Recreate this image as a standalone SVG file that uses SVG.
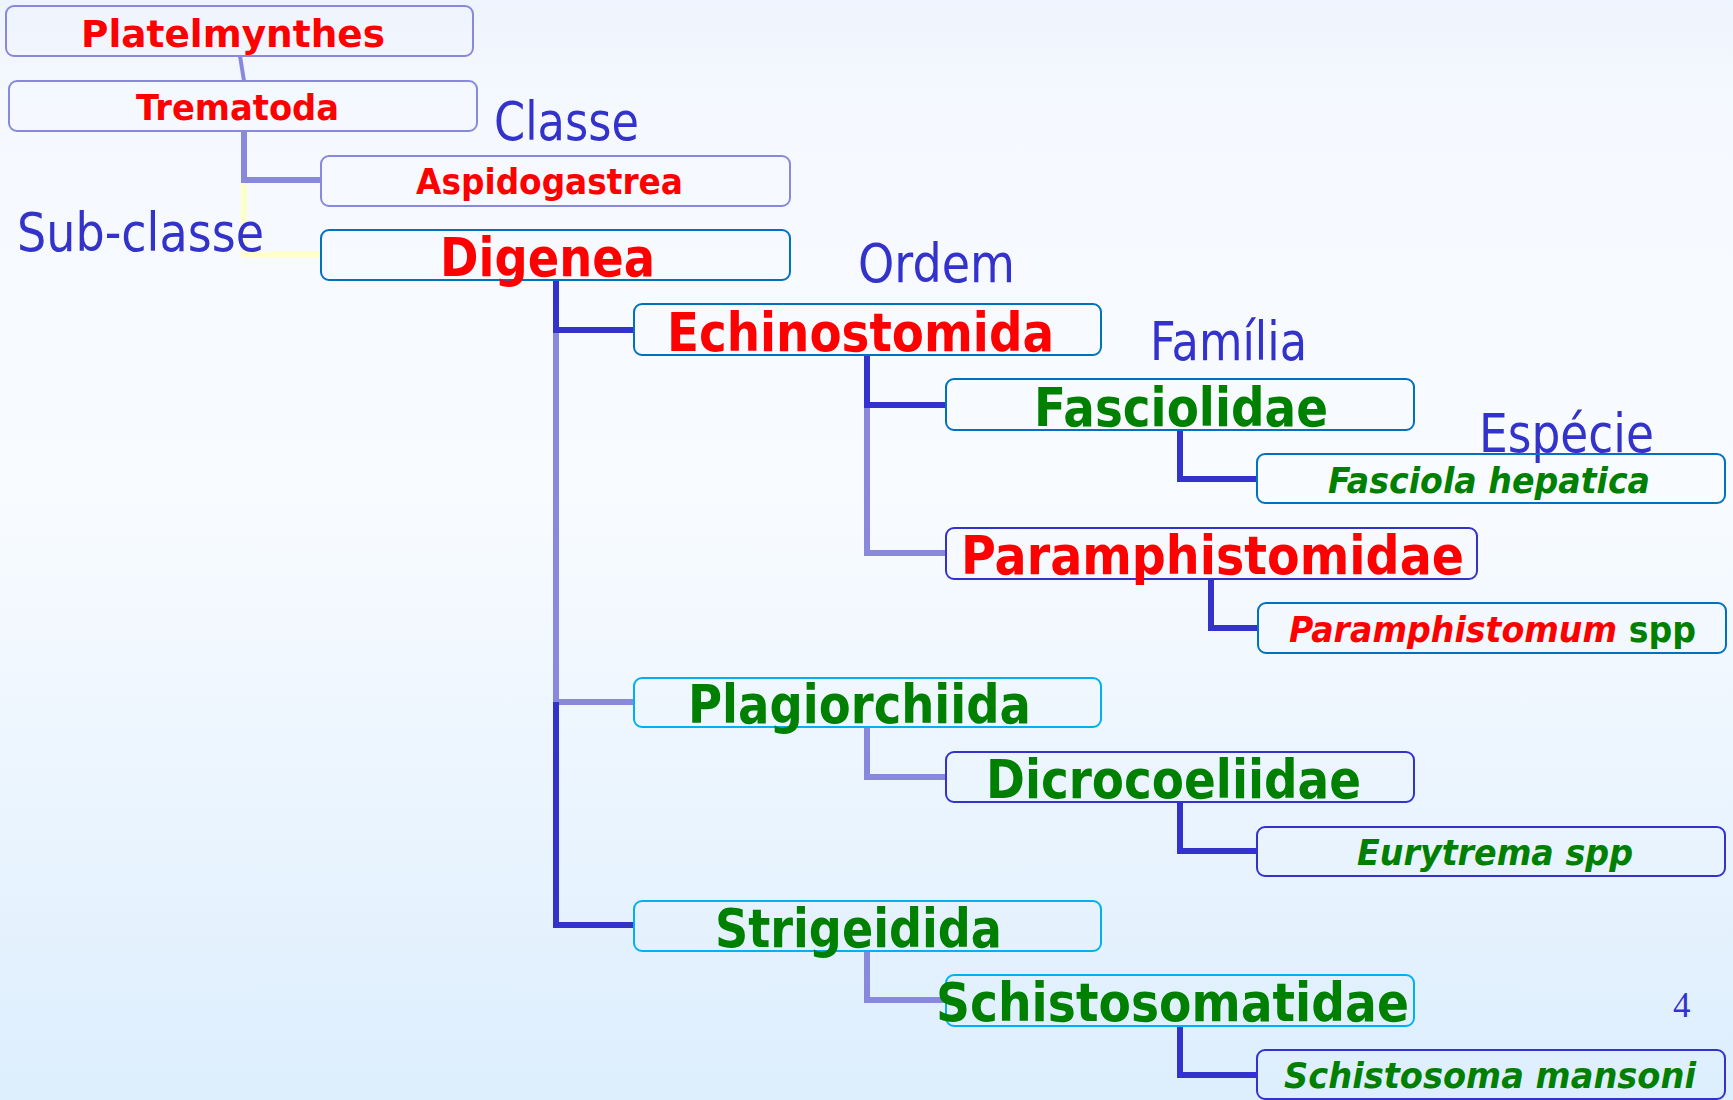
<svg xmlns="http://www.w3.org/2000/svg" width="1733" height="1100" viewBox="0 0 1733 1100">
<defs>
<linearGradient id="bg" x1="0" y1="0" x2="0" y2="1">
<stop offset="0" stop-color="#eef4fd"/>
<stop offset="0.1" stop-color="#f5f9ff"/>
<stop offset="0.45" stop-color="#f8fbff"/>
<stop offset="1" stop-color="#ddeefd"/>
</linearGradient>
</defs>
<style>
.box{fill:none;stroke-width:2}
.b1{stroke:#8888dd}
.b2{stroke:#0070c0}
.b3{stroke:#3333cc}
.b4{stroke:#00b0f0}
.c{fill:none;stroke-width:6;stroke-linejoin:miter;stroke-linecap:butt}
.dk{stroke:#3333cc}
.lt{stroke:#8888dd}
.yl{stroke:#ffffcc}
text{font-family:"DejaVu Sans","Liberation Sans",sans-serif}
.t{font-weight:bold}
.big{font-size:54px}
.sm{font-size:36px}
.red{fill:#ff0000}
.grn{fill:#008000}
.it{font-style:italic}
.rank{font-size:53px;fill:#3333cc}
</style>
<rect x="0" y="0" width="1733" height="1100" fill="url(#bg)"/>

<g id="connectors">
<line class="c lt" x1="240" y1="56" x2="244" y2="81" style="stroke-width:4"/>
<path class="c yl" d="M244 180 V255 H321"/>
<path class="c lt" d="M244 131 V180 H321"/>
<path class="c lt" d="M556 330 V702 H634"/>
<path class="c dk" d="M556 280 V330 H634"/>
<path class="c dk" d="M556 702 V925 H634"/>
<path class="c lt" d="M867 405 V553 H946"/>
<path class="c dk" d="M867 355 V405 H946"/>
<path class="c dk" d="M1180 430 V479 H1257"/>
<path class="c dk" d="M1211 579 V628 H1258"/>
<path class="c lt" d="M867 727 V777 H946"/>
<path class="c dk" d="M1180 802 V851 H1257"/>
<path class="c lt" d="M867 951 V1000 H946"/>
<path class="c dk" d="M1180 1026 V1075 H1257"/>
</g>

<g id="labels">
<text class="rank" x="17" y="251" textLength="247" lengthAdjust="spacingAndGlyphs">Sub-classe</text>
<text class="rank" x="494" y="140" textLength="145" lengthAdjust="spacingAndGlyphs">Classe</text>
<text class="rank" x="858" y="282" textLength="157" lengthAdjust="spacingAndGlyphs">Ordem</text>
<text class="rank" x="1150" y="360" textLength="157" lengthAdjust="spacingAndGlyphs">Família</text>
<text class="rank" x="1479" y="452" textLength="175" lengthAdjust="spacingAndGlyphs">Espécie</text>
<text x="1673" y="1017" style="font-family:'Liberation Serif',serif;font-size:35px;fill:#3333cc">4</text>
</g>

<g id="n-platelmynthes">
<rect class="box b1" x="6" y="6" width="467" height="50" rx="8"/>
<text class="t red" x="81" y="47" style="font-size:37px" textLength="304" lengthAdjust="spacingAndGlyphs">Platelmynthes</text>
</g>
<g id="n-trematoda">
<rect class="box b1" x="9" y="81" width="468" height="50" rx="8"/>
<text class="t red sm" x="136" y="120" textLength="203" lengthAdjust="spacingAndGlyphs">Trematoda</text>
</g>
<g id="n-aspidogastrea">
<rect class="box b1" x="321" y="156" width="469" height="50" rx="8"/>
<text class="t red sm" x="416" y="194" textLength="267" lengthAdjust="spacingAndGlyphs">Aspidogastrea</text>
</g>
<g id="n-digenea">
<rect class="box b2" x="321" y="230" width="469" height="50" rx="8"/>
<text class="t red big" x="440" y="276" textLength="215" lengthAdjust="spacingAndGlyphs">Digenea</text>
</g>
<g id="n-echinostomida">
<rect class="box b2" x="634" y="304" width="467" height="51" rx="8"/>
<text class="t red big" x="667" y="351" textLength="387" lengthAdjust="spacingAndGlyphs">Echinostomida</text>
</g>
<g id="n-fasciolidae">
<rect class="box b2" x="946" y="379" width="468" height="51" rx="8"/>
<text class="t grn big" x="1034" y="426" textLength="294" lengthAdjust="spacingAndGlyphs">Fasciolidae</text>
</g>
<g id="n-fasciola-hepatica">
<rect class="box b2" x="1257" y="454" width="468" height="49" rx="8"/>
<text class="t grn it sm" x="1328" y="493" textLength="322" lengthAdjust="spacingAndGlyphs">Fasciola hepatica</text>
</g>
<g id="n-paramphistomidae">
<rect class="box b3" x="946" y="528" width="531" height="51" rx="8"/>
<text class="t red big" x="961" y="574" textLength="503" lengthAdjust="spacingAndGlyphs">Paramphistomidae</text>
</g>
<g id="n-paramphistomum">
<rect class="box b2" x="1258" y="603" width="468" height="50" rx="8"/>
<text class="t sm" x="1289" y="642" textLength="407" lengthAdjust="spacingAndGlyphs"><tspan class="red it">Paramphistomum</tspan><tspan class="grn"> spp</tspan></text>
</g>
<g id="n-plagiorchiida">
<rect class="box b4" x="634" y="678" width="467" height="49" rx="8"/>
<text class="t grn big" x="688" y="723" textLength="343" lengthAdjust="spacingAndGlyphs">Plagiorchiida</text>
</g>
<g id="n-dicrocoeliidae">
<rect class="box b3" x="946" y="752" width="468" height="50" rx="8"/>
<text class="t grn big" x="986" y="798" textLength="375" lengthAdjust="spacingAndGlyphs">Dicrocoeliidae</text>
</g>
<g id="n-eurytrema">
<rect class="box b3" x="1257" y="827" width="468" height="49" rx="8"/>
<text class="t grn it sm" x="1357" y="865" textLength="276" lengthAdjust="spacingAndGlyphs">Eurytrema spp</text>
</g>
<g id="n-strigeidida">
<rect class="box b4" x="634" y="901" width="467" height="50" rx="8"/>
<text class="t grn big" x="715" y="947" textLength="287" lengthAdjust="spacingAndGlyphs">Strigeidida</text>
</g>
<g id="n-schistosomatidae">
<rect class="box b4" x="946" y="975" width="468" height="51" rx="8"/>
<text class="t grn big" x="936" y="1021" textLength="473" lengthAdjust="spacingAndGlyphs">Schistosomatidae</text>
</g>
<g id="n-schistosoma-mansoni">
<rect class="box b3" x="1257" y="1050" width="468" height="49" rx="8"/>
<text class="t grn it sm" x="1284" y="1088" textLength="412" lengthAdjust="spacingAndGlyphs">Schistosoma mansoni</text>
</g>
</svg>
